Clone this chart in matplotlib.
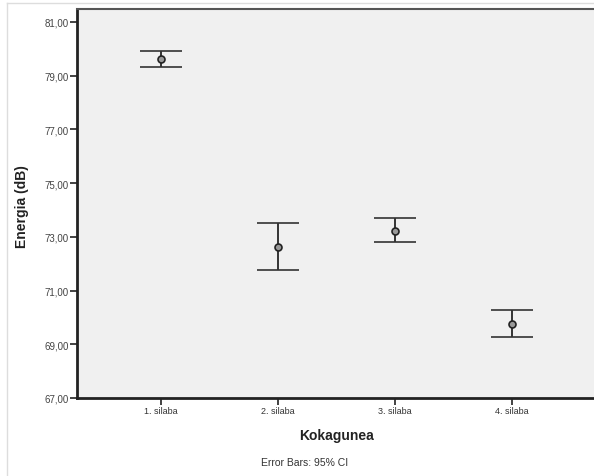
import matplotlib
matplotlib.use("Agg")
import matplotlib.pyplot as plt
from matplotlib.lines import Line2D

categories = ["1. silaba", "2. silaba", "3. silaba", "4. silaba"]
means = [79.62, 72.62, 73.22, 69.75]
ci_low = [79.32, 71.77, 72.81, 69.27]
ci_high = [79.92, 73.52, 73.70, 70.28]
yticks = [67, 69, 71, 73, 75, 77, 79, 81]
ytick_labels = ["67,00", "69,00", "71,00", "73,00", "75,00", "77,00", "79,00", "81,00"]

plt.rcParams['font.family'] = ['Liberation Sans', 'DejaVu Sans']

fig = plt.figure(figsize=(5.94, 4.77), dpi=100)
fig.patch.set_facecolor("white")
ax = fig.add_axes([77/594, 1-399/477, 1-77/594 + 0.01, (399-10)/477])
ax.set_facecolor("#f0f0f0")

x = list(range(1, len(categories) + 1))
yerr = [[m - l for m, l in zip(means, ci_low)], [h - m for m, h in zip(means, ci_high)]]
ax.errorbar(x, means, yerr=yerr, fmt='o', color='#333333', ecolor='#333333',
            elinewidth=1.4, capsize=15, capthick=1.6, markersize=5,
            markerfacecolor='#999999', markeredgecolor='#222222', markeredgewidth=1.2)

ax.set_xlim(0.282, 4.75)
ax.set_ylim(67, 81.48)
ax.set_xticks(x)
ax.set_xticklabels(categories, fontsize=6.5, color='#333333')
ax.set_yticks(yticks)
ax.set_yticklabels(ytick_labels, fontsize=7, color='#444444')
ax.tick_params(axis='both', direction='out', length=5, width=1.2, color='#222222', pad=1)

for side in ['left', 'bottom']:
    ax.spines[side].set_linewidth(2)
    ax.spines[side].set_color('#222222')
ax.spines['top'].set_linewidth(1.5)
ax.spines['top'].set_color('#555555')
ax.spines['right'].set_visible(False)

fig.text(22/594, 1-207/477, "Energia (dB)", rotation=90, ha='center', va='center',
         fontsize=10, fontweight='bold', color='#222222')
fig.text(337/594, 1-436/477, "Kokagunea", ha='center', va='center',
         fontsize=10, fontweight='bold', color='#222222')
fig.text(305/594, 1-463/477, "Error Bars: 95% CI", ha='center', va='center',
         fontsize=7.5, color='#333333')

# outer light frame
fig.add_artist(Line2D([7/594, 7/594], [0, 1-4/477], transform=fig.transFigure, color='#dddddd', lw=1))
fig.add_artist(Line2D([7/594, 1], [1-4/477, 1-4/477], transform=fig.transFigure, color='#dddddd', lw=1))

fig.savefig("out.png", dpi=100)
